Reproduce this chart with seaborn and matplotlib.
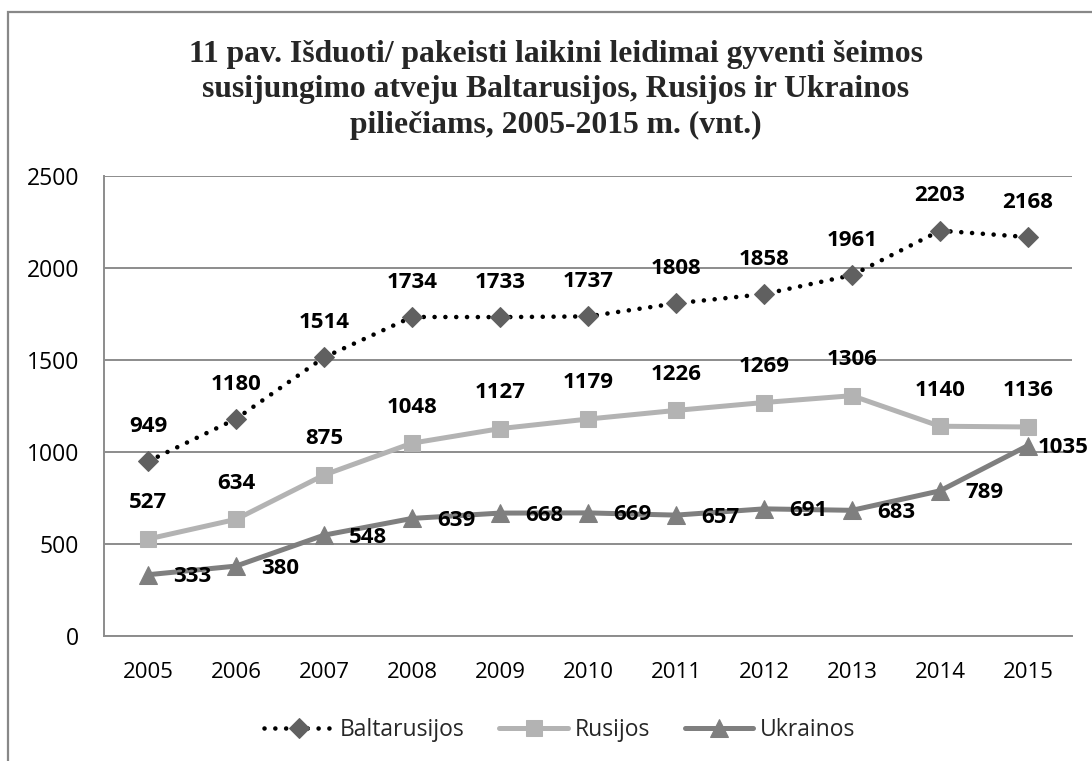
import matplotlib
matplotlib.use("Agg")
import matplotlib.pyplot as plt
import seaborn as sns
import pandas as pd
from matplotlib.patches import Rectangle

years = [2005, 2006, 2007, 2008, 2009, 2010, 2011, 2012, 2013, 2014, 2015]
baltarusijos = [949, 1180, 1514, 1734, 1733, 1737, 1808, 1858, 1961, 2203, 2168]
rusijos = [527, 634, 875, 1048, 1127, 1179, 1226, 1269, 1306, 1140, 1136]
ukrainos = [333, 380, 548, 639, 668, 669, 657, 691, 683, 789, 1035]
series_names = ["Baltarusijos", "Rusijos", "Ukrainos"]
title = ("11 pav. Išduoti/ pakeisti laikini leidimai gyventi šeimos\n"
         "susijungimo atveju Baltarusijos, Rusijos ir Ukrainos\n"
         "piliečiams, 2005-2015 m. (vnt.)")
yticks = [0, 500, 1000, 1500, 2000, 2500]

sns.set_theme(style="white")
plt.rcParams['font.family'] = ['Open Sans', 'DejaVu Sans']

df = pd.DataFrame({"year": years, "Baltarusijos": baltarusijos,
                   "Rusijos": rusijos, "Ukrainos": ukrainos})

fig = plt.figure(figsize=(10.92, 7.61), dpi=100)
ax = fig.add_axes([104/1092, 1 - 636/761, (1072-104)/1092, (636-176)/761])

grid_c = "#8c8c8c"
c_bal_marker = "#606060"
c_rus = "#b3b3b3"
c_ukr = "#7f7f7f"

# Ukrainos
sns.lineplot(data=df, x="year", y="Ukrainos", ax=ax, color=c_ukr, lw=3.6,
             marker="^", markersize=13, markeredgecolor=c_ukr,
             markerfacecolor=c_ukr, label="Ukrainos", zorder=3)
# Rusijos
sns.lineplot(data=df, x="year", y="Rusijos", ax=ax, color=c_rus, lw=3.6,
             marker="s", markersize=12, markeredgecolor=c_rus,
             markerfacecolor=c_rus, label="Rusijos", zorder=4)
# Baltarusijos
sns.lineplot(data=df, x="year", y="Baltarusijos", ax=ax, color="black", lw=3.3,
             marker="D", markersize=10, markeredgecolor=c_bal_marker,
             markerfacecolor=c_bal_marker, label="Baltarusijos", zorder=5)
bal_line = ax.lines[-1]
bal_line.set_linestyle((0, (0.01, 2.35)))
bal_line.set_dash_capstyle("round")

ax.set_xlim(2004.5, 2015.5)
ax.set_ylim(0, 2500)
ax.set_yticks(yticks)
ax.set_xticks(years)
ax.set_xticklabels([str(y) for y in years], fontsize=16)
ax.set_yticklabels([str(v) for v in yticks], fontsize=16.5)
ax.tick_params(axis="both", length=0, colors="black")
ax.tick_params(axis="y", pad=18)
ax.tick_params(axis="x", pad=19)
ax.set_xlabel("")
ax.set_ylabel("")
ax.yaxis.grid(True, color=grid_c, lw=1.4)
ax.set_axisbelow(True)
for s in ["top", "right"]:
    ax.spines[s].set_visible(False)
ax.spines["left"].set_color(grid_c)
ax.spines["left"].set_linewidth(1.4)
ax.spines["bottom"].set_color(grid_c)
ax.spines["bottom"].set_linewidth(1.4)

lab_kw = dict(fontsize=16, fontweight="bold", color="black", zorder=6)
for x, v in zip(years, baltarusijos):
    ax.annotate(str(v), (x, v), xytext=(0, 25), textcoords="offset points",
                ha="center", va="center", **lab_kw)
for x, v in zip(years, rusijos):
    ax.annotate(str(v), (x, v), xytext=(0, 26), textcoords="offset points",
                ha="center", va="center", **lab_kw)
for i, (x, v) in enumerate(zip(years, ukrainos)):
    dx = 7 if i == len(years) - 1 else 18
    ax.annotate(str(v), (x, v), xytext=(dx, -1.5), textcoords="offset points",
                ha="left", va="center", annotation_clip=False, **lab_kw)

handles, labels = ax.get_legend_handles_labels()
order = [labels.index(n) for n in series_names]
leg = ax.legend([handles[i] for i in order], [labels[i] for i in order],
                loc="center", bbox_to_anchor=(560/1092, 1 - 730/761),
                bbox_transform=fig.transFigure, ncol=3, frameon=False,
                fontsize=16.5, handlelength=3.0, handletextpad=0.3,
                columnspacing=1.5, numpoints=1)

fig.text(556/1092, 1 - 90/761, title, ha="center", va="center",
         fontsize=22.8, fontweight="bold", family=["Liberation Serif"],
         linespacing=1.3)

fig.add_artist(Rectangle((7.5/1092, -0.2), 1.2, 1 - 12/761 + 0.2,
                         transform=fig.transFigure, fill=False,
                         edgecolor="#888888", lw=1.6, clip_on=False))

fig.savefig("out.png", dpi=100, facecolor="white")
